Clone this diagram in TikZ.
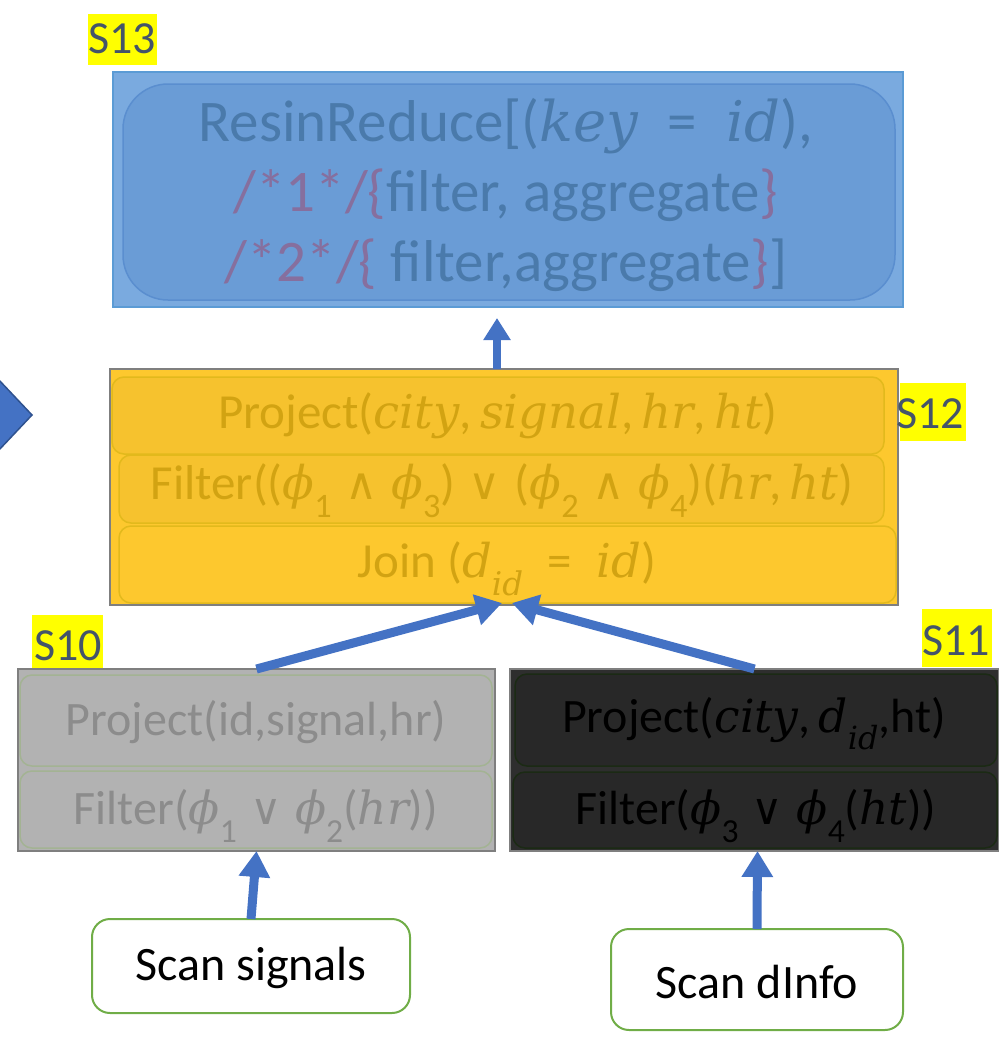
\documentclass[tikz,border=0pt]{standalone}
\usepackage{fontspec}
\setmainfont{Carlito}
\newfontfamily\vfont{DejaVu Serif}[Scale=0.95]
\newfontfamily\symfont{DejaVu Sans}[Scale=0.9]
\usetikzlibrary{arrows.meta}

% italic variables, phi, logic signs, equals and lowered indices
\newcommand\vi[1]{{\vfont\itshape #1}}
\newcommand\ph{{\vfont\itshape ϕ}}
\newcommand\lo[1]{\raisebox{-0.36em}{\scalebox{0.7}{#1}}}
\newcommand\opor{\;{\symfont ∨}\;}
\newcommand\opand{\;{\symfont ∧}\;}
\newcommand\opeq{\enspace=\enspace}

\definecolor{flowblue}{HTML}{4472C4}
\definecolor{chevedge}{HTML}{2F528F}
\definecolor{reduceout}{HTML}{7AAADF}
\definecolor{reduceoutline}{HTML}{5B9BD5}
\definecolor{reducein}{HTML}{6A9CD6}
\definecolor{reduceinline}{HTML}{5A8ECF}
\definecolor{reducetxt}{HTML}{4A7AAB}
\definecolor{reducepur}{HTML}{866F9E}
\definecolor{joinfill}{HTML}{FDC82E}
\definecolor{joinrow}{HTML}{F6C22E}
\definecolor{joinrowline}{HTML}{E2B91C}
\definecolor{jointxt}{HTML}{D2A312}
\definecolor{frameline}{HTML}{7F7F7F}
\definecolor{lefill}{HTML}{B2B2B2}
\definecolor{lerowline}{HTML}{A3B393}
\definecolor{letxt}{HTML}{8C8C8C}
\definecolor{rifill}{HTML}{2E2E2E}
\definecolor{rirow}{HTML}{282828}
\definecolor{rirowline}{HTML}{1B2A14}
\definecolor{scanline}{HTML}{70AD47}
\definecolor{tagfill}{HTML}{FFFF00}
\definecolor{tagtxt}{HTML}{44546A}

\tikzset{
  panel/.style={draw=frameline, line width=1.5pt, inner sep=0pt, outer sep=0pt, anchor=north west},
  oprow/.style={line width=1.5pt, rounded corners=12pt, inner sep=0pt, outer sep=0pt, anchor=north west},
  tag/.style={fill=tagfill, inner sep=0pt, outer sep=0pt, anchor=north west},
  tagtext/.style={text=tagtxt, inner sep=0pt, font=\fontsize{46}{46}\selectfont},
  scanbox/.style={draw=scanline, fill=white, line width=2pt, rounded corners=18pt, inner sep=0pt,
    outer sep=0pt, anchor=north west},
  flow/.style={draw=flowblue, line width=9pt, -{Triangle[length=26pt,width=30pt]}},
  optext/.style={inner sep=0pt, font=\fontsize{#1}{#1}\selectfont},
}

\begin{document}
\begin{tikzpicture}[x=1pt,y=-1pt]
\useasboundingbox (0,0) rectangle (999,1045);

% partly visible chevron at the left edge
\filldraw[fill=flowblue, draw=chevedge, line width=1.5pt] (-2,379) -- (32,415) -- (-2,451) -- cycle;

% S13: reduce stage
\node[tag, minimum width=69pt, minimum height=51pt] (t13) at (88,14) {};
\node[tagtext] (t13txt) at (122,39) {S13};
\node[panel, draw=reduceoutline, fill=reduceout, minimum width=790pt, minimum height=235pt] (s13) at (113,72) {};
\node[oprow, draw=reduceinline, fill=reducein, rounded corners=45pt, minimum width=772pt, minimum height=216pt] (s13in) at (123,84) {};
\node[inner sep=0pt, align=center, text=reducetxt, font=\fontsize{59}{70}\selectfont] (s13txt) at (506,195)
  {ResinReduce[(\vi{key}\opeq\vi{id}),\\
   \textcolor{reducepur}{/*1*/\{}filter, aggregate\textcolor{reducepur}{\}}\\
   \textcolor{reducepur}{/*2*/\{} filter,aggregate\textcolor{reducepur}{\}}]};

% S12: join stage
\node[panel, fill=joinfill, minimum width=788pt, minimum height=236pt] (s12) at (110,369) {};
\node[oprow, draw=joinrowline, fill=joinrow, minimum width=772pt, minimum height=77pt] (s12a) at (112,377) {};
\node[oprow, draw=joinrowline, fill=joinrow, minimum width=765pt, minimum height=68pt] (s12b) at (119,455) {};
\node[oprow, draw=joinrowline, fill=joinfill, minimum width=777pt, minimum height=77pt] (s12c) at (119,526) {};
\node[optext=49, text=jointxt] (s12at) at (498,416) {Project(\vi{city},\,\vi{signal},\,\vi{hr},\,\vi{ht})};
\node[optext=49, text=jointxt] (s12bt) at (502,491) {Filter((\ph\lo{1}\opand\ph\lo{3})\opor(\ph\lo{2}\opand\ph\lo{4})(\vi{hr},\,\vi{ht})};
\node[optext=49, text=jointxt] (s12ct) at (507,569) {Join (\vi{d}\lo{\vi{id}}\opeq\vi{id})};
\node[tag, minimum width=66pt, minimum height=58pt] (t12) at (900,383) {};
\node[tagtext] (t12txt) at (930,414) {S12};

% S10: signals branch
\node[tag, minimum width=71pt, minimum height=57pt] (t10) at (32,615) {};
\node[tagtext] (t10txt) at (68,646) {S10};
\node[panel, fill=lefill, minimum width=477pt, minimum height=182pt] (s10) at (18,669) {};
\node[oprow, draw=lerowline, fill=lefill, minimum width=472pt, minimum height=91pt] (s10a) at (20,675) {};
\node[oprow, draw=lerowline, fill=lefill, minimum width=472pt, minimum height=77pt] (s10b) at (20,771) {};
\node[optext=48, text=letxt] (s10at) at (256,722) {Project(id,signal,hr)};
\node[optext=48, text=letxt] (s10bt) at (256,816) {Filter(\ph\lo{1}\opor\ph\lo{2}(\vi{hr}))};

% S11: dInfo branch
\node[tag, minimum width=70pt, minimum height=58pt] (t11) at (922,609) {};
\node[tagtext] (t11txt) at (956,641) {S11};
\node[panel, fill=rifill, minimum width=489pt, minimum height=182pt] (s11) at (510,669) {};
\node[oprow, draw=rirowline, fill=rirow, minimum width=482pt, minimum height=92pt] (s11a) at (515,674) {};
\node[oprow, draw=rirowline, fill=rirow, minimum width=484pt, minimum height=76pt] (s11b) at (513,772) {};
\node[optext=48, text=black] (s11at) at (754,724) {Project(\vi{city},\,\vi{d}\lo{\vi{id}},ht)};
\node[optext=48, text=black] (s11bt) at (756,816) {Filter(\ph\lo{3}\opor\ph\lo{4}(\vi{ht}))};

% scans
\node[scanbox, minimum width=318pt, minimum height=94pt] (ss) at (92,919) {};
\node[optext=48] (sstxt) at (251,968) {Scan signals};
\node[scanbox, minimum width=292pt, minimum height=101pt] (sd) at (611,929) {};
\node[optext=48] (sdtxt) at (757,982) {Scan dInfo};

% data flow
\draw[flow] (ss.north) -- (s10.south);
\draw[flow] (sd.north) -- ([xshift=3pt]s11.south);
\draw[flow] (s10.north) -- ([xshift=-2pt,yshift=2pt]s12.south);
\draw[flow] (s11.north) -- ([xshift=8pt,yshift=2pt]s12.south);
\draw[flow, line width=8pt, -{Triangle[length=22pt,width=26pt]}] ([xshift=-7pt]s12.north) -- ([xshift=-11pt,yshift=-11pt]s13.south);
\end{tikzpicture}
\end{document}
